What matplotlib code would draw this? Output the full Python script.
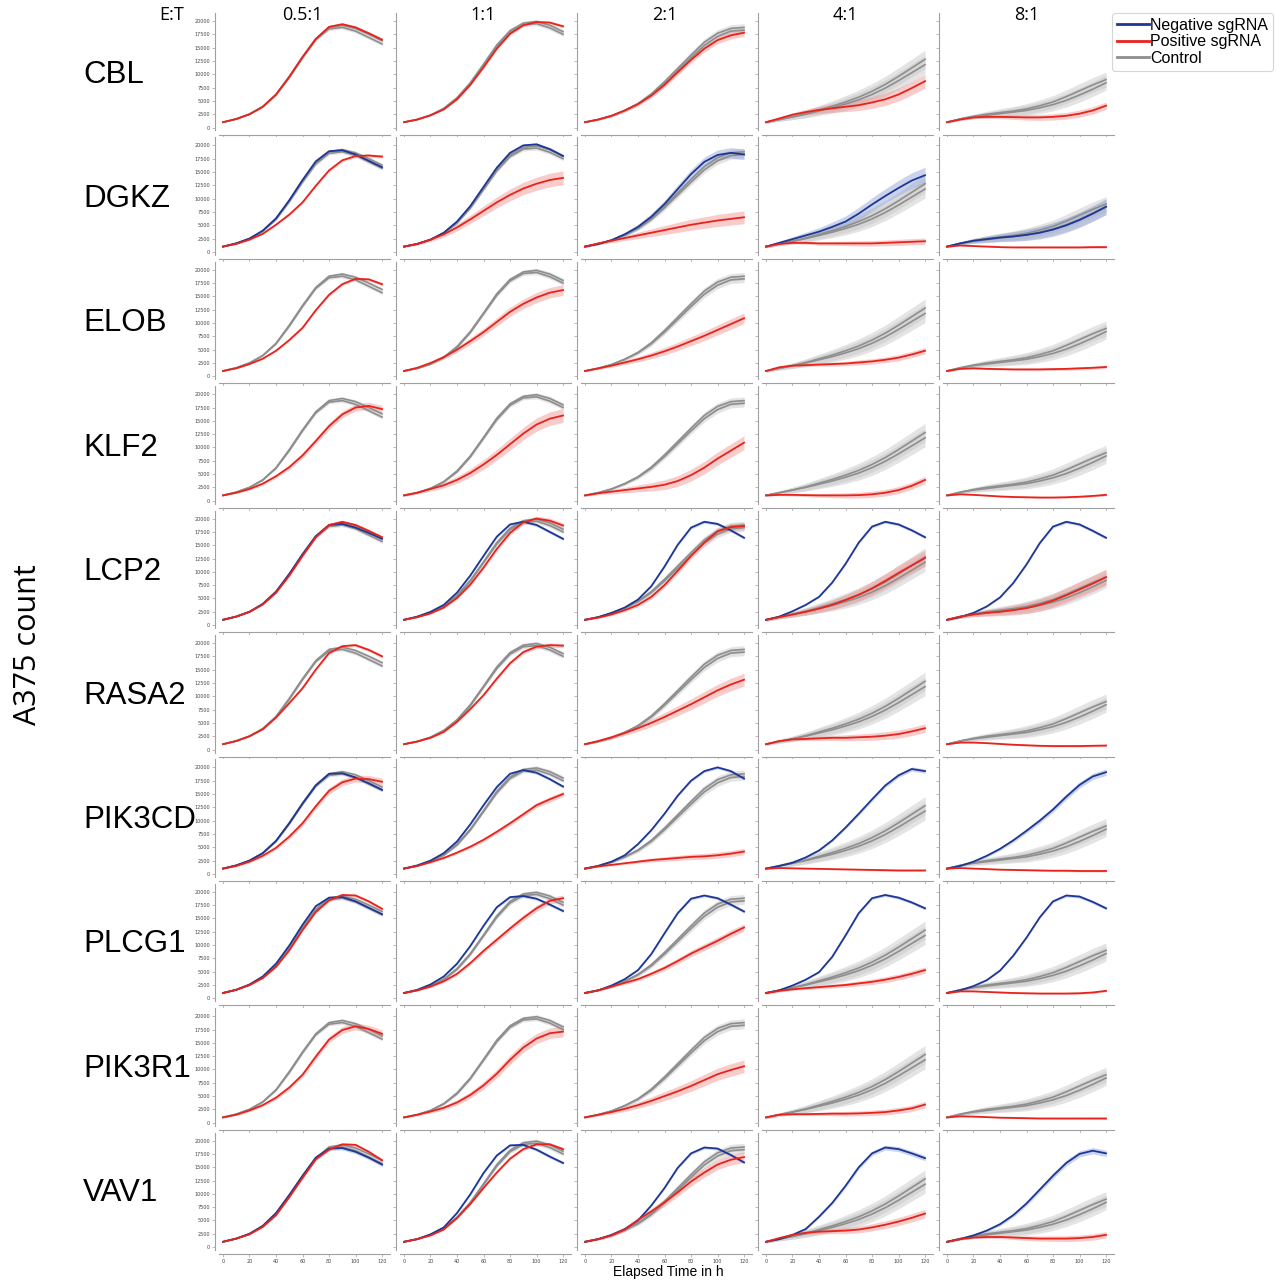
import matplotlib

matplotlib.use("Agg")
import matplotlib.pyplot as plt  # noqa: E402
import numpy as np  # noqa: E402
from matplotlib.lines import Line2D  # noqa: E402

TIME = [0, 10, 20, 30, 40, 50, 60, 70, 80, 90, 100, 110, 120]
RATIOS = ["0.5:1", "1:1", "2:1", "4:1", "8:1"]
GENES = ["CBL", "DGKZ", "ELOB", "KLF2", "LCP2", "RASA2", "PIK3CD", "PLCG1", "PIK3R1", "VAV1"]

# control wells, two lines per E:T ratio (same in every row)
CTRL_HI = [
    [1000, 1600, 2500, 3900, 6200, 9600, 13300, 16700, 18800, 19200, 18600, 17500, 16300],
    [1000, 1500, 2300, 3600, 5600, 8400, 11900, 15500, 18200, 19600, 19900, 19200, 18000],
    [1000, 1500, 2200, 3200, 4500, 6300, 8600, 11100, 13600, 16000, 17700, 18600, 18800],
    [1000, 1500, 2000, 2600, 3300, 4000, 4800, 5700, 6800, 8100, 9600, 11200, 12800],
    [1000, 1600, 2100, 2500, 2800, 3100, 3500, 4100, 4800, 5800, 6900, 8000, 9000],
]
CTRL_LO = [
    [1000, 1600, 2500, 3900, 6100, 9400, 13100, 16500, 18500, 18800, 18100, 16900, 15700],
    [1000, 1500, 2300, 3500, 5400, 8200, 11700, 15200, 17900, 19300, 19500, 18700, 17500],
    [1000, 1500, 2200, 3200, 4400, 6100, 8300, 10700, 13100, 15400, 17100, 18100, 18300],
    [1000, 1500, 2000, 2500, 3100, 3700, 4400, 5200, 6200, 7400, 8800, 10300, 11800],
    [1000, 1600, 2000, 2300, 2600, 2900, 3200, 3700, 4300, 5100, 6100, 7200, 8400],
]
CTRL_SD = [350, 400, 700, 1700, 1400]

# how the shaded bands open up over time (fraction of the 120 h width)
BAND_RAMP = [0.15, 0.2, 0.3, 0.4, 0.5, 0.6, 0.7, 0.78, 0.85, 0.9, 0.95, 0.98, 1.0]

CBL_POS = [
    [1000, 1600, 2500, 3900, 6200, 9500, 13200, 16600, 18900, 19400, 18800, 17700, 16500],
    [1000, 1500, 2300, 3400, 5300, 8000, 11300, 14800, 17600, 19200, 19800, 19700, 19000],
    [1000, 1500, 2200, 3200, 4400, 6000, 8000, 10400, 12700, 14800, 16400, 17300, 17800],
    [1000, 1700, 2400, 2900, 3300, 3600, 3900, 4200, 4700, 5300, 6200, 7400, 8700],
    [1000, 1500, 1900, 2000, 2000, 1950, 1900, 1900, 2000, 2200, 2600, 3200, 4100],
]
CBL_POS_SD = [300, 300, 700, 1300, 700]

DGKZ_POS = [
    [1000, 1500, 2300, 3400, 5100, 7000, 9300, 12400, 15300, 17200, 18000, 18100, 17900],
    [1000, 1500, 2300, 3300, 4600, 6100, 7700, 9300, 10700, 11900, 12800, 13500, 13900],
    [1000, 1600, 2100, 2600, 3100, 3600, 4100, 4600, 5100, 5500, 5900, 6200, 6500],
    [1000, 1500, 1700, 1700, 1600, 1600, 1600, 1600, 1600, 1700, 1800, 1900, 2000],
    [1000, 1200, 1100, 1000, 900, 850, 850, 850, 850, 850, 850, 900, 900],
]
DGKZ_POS_SD = [300, 1300, 1200, 600, 200]
DGKZ_NEG = [
    [1000, 1600, 2500, 4000, 6300, 9700, 13500, 17000, 18900, 19100, 18300, 17100, 15900],
    [1000, 1500, 2300, 3600, 5700, 8600, 12200, 15800, 18600, 20000, 20200, 19300, 18000],
    [1000, 1500, 2200, 3300, 4700, 6600, 9000, 11800, 14600, 16900, 18200, 18600, 18300],
    [1000, 1700, 2400, 3100, 3800, 4700, 5700, 7200, 8900, 10500, 12000, 13400, 14400],
    [1000, 1600, 2100, 2400, 2700, 2900, 3200, 3600, 4200, 5000, 6000, 7200, 8500],
]
DGKZ_NEG_SD = [300, 300, 1000, 1500, 1500]

ELOB_POS = [
    [1000, 1500, 2300, 3300, 4800, 6800, 9100, 12400, 15300, 17300, 18300, 18200, 17300],
    [1000, 1600, 2500, 3600, 5000, 6600, 8300, 10200, 12100, 13600, 14800, 15700, 16200],
    [1000, 1500, 2000, 2600, 3200, 3900, 4700, 5600, 6600, 7600, 8700, 9800, 10900],
    [1000, 1700, 2000, 2100, 2200, 2300, 2400, 2600, 2800, 3100, 3500, 4100, 4800],
    [1000, 1400, 1500, 1400, 1350, 1300, 1300, 1300, 1350, 1400, 1500, 1600, 1750],
]
ELOB_POS_SD = [300, 1000, 1000, 600, 300]

KLF2_POS = [
    [1000, 1500, 2200, 3200, 4600, 6300, 8500, 11200, 14000, 16200, 17500, 17800, 17200],
    [1000, 1500, 2200, 2900, 3900, 5200, 6800, 8600, 10600, 12600, 14300, 15400, 16000],
    [1000, 1400, 1700, 2000, 2300, 2600, 3000, 3700, 4800, 6200, 7900, 9400, 10900],
    [1000, 1100, 1100, 1050, 1000, 1000, 1000, 1050, 1200, 1500, 2000, 2800, 3900],
    [1000, 1200, 1100, 950, 800, 700, 650, 600, 600, 650, 750, 900, 1100],
]
KLF2_POS_SD = [700, 1300, 1300, 700, 200]

LCP2_POS = [
    [1000, 1600, 2500, 3900, 6100, 9300, 13000, 16500, 18800, 19400, 18800, 17700, 16500],
    [1000, 1500, 2200, 3300, 5100, 7600, 10800, 14300, 17300, 19300, 20000, 19600, 18700],
    [1000, 1400, 2000, 2800, 3800, 5300, 7500, 10200, 13000, 15500, 17600, 18400, 18600],
    [1000, 1500, 2000, 2500, 3100, 3800, 4700, 5700, 6900, 8300, 9800, 11200, 12600],
    [1000, 1600, 2000, 2300, 2500, 2800, 3200, 3800, 4600, 5600, 6700, 7800, 9000],
]
LCP2_POS_SD = [300, 500, 700, 1500, 1500]
LCP2_NEG = [
    [1000, 1600, 2500, 4000, 6300, 9600, 13300, 16700, 18800, 19000, 18300, 17300, 16200],
    [1000, 1600, 2500, 3800, 6100, 9300, 13000, 16600, 18900, 19400, 18800, 17500, 16200],
    [1000, 1500, 2300, 3300, 4800, 7300, 11000, 15100, 18300, 19400, 19000, 17800, 16400],
    [1000, 1600, 2600, 3800, 5300, 8000, 11500, 15500, 18500, 19400, 18900, 17800, 16500],
    [1000, 1500, 2300, 3500, 5200, 7900, 11400, 15400, 18500, 19400, 18900, 17700, 16400],
]
LCP2_NEG_SD = [300, 300, 300, 300, 300]

RASA2_POS = [
    [1000, 1600, 2500, 3800, 6000, 8700, 11500, 15000, 18100, 19400, 19600, 18700, 17500],
    [1000, 1500, 2200, 3300, 5200, 7600, 10200, 13300, 16200, 18300, 19300, 19600, 19500],
    [1000, 1600, 2300, 3100, 4000, 5000, 6100, 7300, 8500, 9800, 11100, 12200, 13100],
    [1000, 1600, 1900, 2000, 2100, 2200, 2200, 2300, 2400, 2600, 2900, 3400, 4000],
    [1000, 1300, 1300, 1200, 1050, 900, 800, 700, 650, 650, 650, 700, 750],
]
RASA2_POS_SD = [300, 400, 1200, 800, 200]

PIK3CD_POS = [
    [1000, 1500, 2300, 3400, 4900, 7000, 9500, 12700, 15600, 17200, 17900, 17800, 17300],
    [1000, 1500, 2200, 3000, 4000, 5100, 6400, 7900, 9500, 11200, 12900, 14000, 15000],
    [1000, 1400, 1700, 2000, 2300, 2600, 2800, 3000, 3200, 3300, 3500, 3800, 4200],
    [1000, 1100, 1050, 1000, 950, 900, 850, 800, 750, 700, 650, 650, 650],
    [1000, 1100, 1000, 900, 800, 750, 700, 650, 600, 600, 550, 550, 550],
]
PIK3CD_POS_SD = [700, 500, 600, 200, 200]
PIK3CD_NEG = [
    [1000, 1600, 2500, 3900, 6200, 9500, 13200, 16600, 18800, 18900, 18100, 17000, 15800],
    [1000, 1600, 2500, 3900, 6100, 9300, 12900, 16300, 18800, 19500, 19000, 17800, 16400],
    [1000, 1500, 2300, 3500, 5600, 8200, 11300, 14700, 17500, 19300, 20000, 19300, 17900],
    [1000, 1500, 2100, 3100, 4400, 6300, 8700, 11300, 14000, 16600, 18500, 19700, 19300],
    [1000, 1500, 2300, 3400, 4700, 6300, 8100, 10000, 12100, 14500, 16700, 18300, 19100],
]
PIK3CD_NEG_SD = [300, 300, 300, 400, 600]

PLCG1_POS = [
    [1000, 1600, 2500, 3800, 5900, 9000, 12800, 16200, 18400, 19400, 19300, 18200, 16800],
    [1000, 1500, 2200, 3200, 4600, 6600, 8900, 11000, 13100, 15100, 16900, 18300, 18800],
    [1000, 1500, 2200, 2900, 3600, 4600, 5700, 7000, 8400, 9600, 10800, 12100, 13300],
    [1000, 1400, 1700, 1900, 2100, 2300, 2500, 2800, 3100, 3500, 4000, 4600, 5300],
    [1000, 1300, 1300, 1200, 1100, 1000, 950, 900, 900, 900, 950, 1100, 1400],
]
PLCG1_POS_SD = [300, 600, 700, 600, 200]
PLCG1_NEG = [
    [1000, 1600, 2600, 4100, 6500, 9900, 13800, 17300, 18900, 19000, 18200, 17000, 15800],
    [1000, 1600, 2600, 4100, 6500, 9800, 13600, 17100, 19000, 19200, 18700, 17600, 16400],
    [1000, 1500, 2400, 3600, 5300, 8300, 12200, 16000, 18700, 19300, 18800, 17600, 16300],
    [1000, 1500, 2400, 3500, 4900, 7800, 11800, 16000, 18800, 19400, 18900, 18000, 16900],
    [1000, 1500, 2300, 3400, 5200, 8000, 11400, 15200, 18200, 19300, 19100, 18100, 16900],
]
PLCG1_NEG_SD = [300, 300, 300, 300, 300]

PIK3R1_POS = [
    [1000, 1500, 2300, 3300, 4700, 6600, 9000, 12400, 15600, 17400, 18100, 17600, 16700],
    [1000, 1500, 2100, 2800, 3800, 5200, 7000, 9200, 11800, 14100, 15800, 16800, 17100],
    [1000, 1500, 2000, 2600, 3300, 4100, 5000, 5900, 6900, 8000, 9100, 9900, 10600],
    [1000, 1500, 1600, 1600, 1650, 1700, 1700, 1750, 1850, 2000, 2300, 2700, 3400],
    [1000, 1200, 1150, 1050, 950, 900, 850, 800, 800, 800, 800, 800, 800],
]
PIK3R1_POS_SD = [700, 1000, 1200, 600, 200]

VAV1_POS = [
    [1000, 1600, 2400, 3800, 6000, 9400, 13000, 16500, 18300, 19300, 19200, 17900, 16300],
    [1000, 1500, 2200, 3300, 5500, 8100, 11100, 14000, 16600, 18400, 19300, 19300, 18400],
    [1000, 1500, 2200, 3300, 5100, 6700, 8400, 10300, 12300, 14000, 15500, 16400, 16900],
    [1000, 1700, 2300, 2700, 2900, 3000, 3100, 3300, 3700, 4200, 4800, 5500, 6300],
    [1000, 1500, 1800, 1900, 1900, 1800, 1700, 1600, 1600, 1600, 1700, 1900, 2300],
]
VAV1_POS_SD = [300, 300, 1000, 800, 600]
VAV1_NEG = [
    [1000, 1600, 2500, 4000, 6400, 9800, 13400, 16800, 18500, 18600, 17900, 16800, 15500],
    [1000, 1500, 2400, 3700, 6400, 9900, 13900, 17200, 19100, 19200, 18300, 17000, 15800],
    [1000, 1500, 2300, 3400, 5000, 7800, 11100, 14900, 17600, 18700, 18500, 17300, 15900],
    [1000, 1500, 2300, 3400, 5700, 8300, 11500, 15000, 17600, 18700, 18400, 17600, 16700],
    [1000, 1500, 2200, 3100, 4300, 6000, 8200, 10800, 13400, 15800, 17500, 18100, 17600],
]
VAV1_NEG_SD = [400, 300, 300, 500, 600]

POS = {"CBL": (CBL_POS, CBL_POS_SD), "DGKZ": (DGKZ_POS, DGKZ_POS_SD),
       "ELOB": (ELOB_POS, ELOB_POS_SD), "KLF2": (KLF2_POS, KLF2_POS_SD),
       "LCP2": (LCP2_POS, LCP2_POS_SD), "RASA2": (RASA2_POS, RASA2_POS_SD),
       "PIK3CD": (PIK3CD_POS, PIK3CD_POS_SD), "PLCG1": (PLCG1_POS, PLCG1_POS_SD),
       "PIK3R1": (PIK3R1_POS, PIK3R1_POS_SD), "VAV1": (VAV1_POS, VAV1_POS_SD)}
NEG = {"DGKZ": (DGKZ_NEG, DGKZ_NEG_SD), "LCP2": (LCP2_NEG, LCP2_NEG_SD),
       "PIK3CD": (PIK3CD_NEG, PIK3CD_NEG_SD), "PLCG1": (PLCG1_NEG, PLCG1_NEG_SD),
       "VAV1": (VAV1_NEG, VAV1_NEG_SD)}

RED, RED_BAND = "#e8231b", "#ef8f8c"
BLUE, BLUE_BAND = "#1d3794", "#8c9fd6"
GREY, GREY_BAND = "#8e8e8e", "#c4c4c4"
SPINE = "#a0a0a0"

W, H = 1285, 1281


def fx(px):
    return px / W


def fy(py):
    return 1 - py / H


fig = plt.figure(figsize=(W / 100, H / 100), dpi=100)
t = np.array(TIME)
ramp = np.array(BAND_RAMP)

for r, gene in enumerate(GENES):
    for c in range(5):
        ax = fig.add_axes([fx(219 + 181 * c), fy(130.5 + 124.4 * r), 171 / W, 117.5 / H])
        sd = CTRL_SD[c] * ramp
        for line in (CTRL_HI[c], CTRL_LO[c]):
            y = np.array(line)
            ax.fill_between(t, y - sd, y + sd, color=GREY_BAND, alpha=0.45, lw=0)
        for line in (CTRL_HI[c], CTRL_LO[c]):
            ax.plot(t, line, color=GREY, lw=1.2)

        if gene in NEG:
            vals, sds = NEG[gene]
            y = np.array(vals[c])
            ax.fill_between(t, y - sds[c] * ramp, y + sds[c] * ramp, color=BLUE_BAND, alpha=0.45, lw=0)
            ax.plot(t, y, color=BLUE, lw=1.3)
        vals, sds = POS[gene]
        y = np.array(vals[c])
        ax.fill_between(t, y - sds[c] * ramp, y + sds[c] * ramp, color=RED_BAND, alpha=0.45, lw=0)
        ax.plot(t, y, color=RED, lw=1.3)

        ax.set_xlim(-3, 126)
        ax.set_ylim(-560, 21500)
        ax.set_xticks(range(0, 121, 20))
        ax.set_yticks(range(0, 20001, 2500))
        for side in ("top", "right"):
            ax.spines[side].set_visible(False)
        for side in ("left", "bottom"):
            ax.spines[side].set_color(SPINE)
            ax.spines[side].set_linewidth(0.8)
            ax.spines[side].set_position(("outward", 3))
        ax.tick_params(length=2, width=0.5, color=SPINE, labelsize=3.5, labelcolor="#444444", pad=1.5)
        if c > 0:
            ax.set_yticklabels([])
        if r < len(GENES) - 1:
            ax.set_xticklabels([])

    fig.text(fx(83), fy(75 + 124.2 * r), gene, ha="left", va="center",
             fontsize=22.5, family="Liberation Sans")

for c, ratio in enumerate(RATIOS):
    fig.text(fx(302.5 + 181 * c), fy(15), ratio, ha="center", va="center",
             fontsize=13, family="Open Sans")
fig.text(fx(172), fy(15), "E:T", ha="center", va="center", fontsize=13, family="Open Sans")
fig.text(fx(28), fy(645), "A375 count", ha="center", va="center", rotation=90,
         fontsize=22, family="Open Sans")
fig.text(fx(668), fy(1272), "Elapsed Time in h", ha="center", va="center",
         fontsize=10, family="Liberation Sans")

handles = [Line2D([], [], color=BLUE, lw=2), Line2D([], [], color=RED, lw=2),
           Line2D([], [], color=GREY, lw=2)]
leg = fig.legend(handles, ["Negative sgRNA", "Positive sgRNA", "Control"],
                 loc="upper right", bbox_to_anchor=(fx(1273), fy(13)),
                 prop={"family": "Liberation Sans", "size": 11.5}, frameon=True,
                 fancybox=True, handlelength=2.0, handletextpad=0.1, borderpad=0.3,
                 labelspacing=0.1, borderaxespad=0)
leg.get_frame().set_edgecolor("#cccccc")
leg.get_frame().set_linewidth(0.8)

fig.savefig("out.png", dpi=100)
